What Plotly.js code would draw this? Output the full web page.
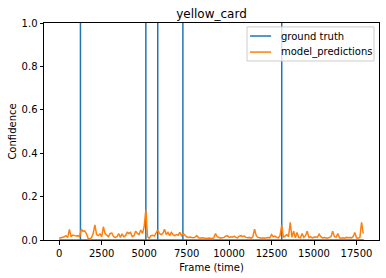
<!DOCTYPE html>
<html>
<head>
<meta charset="utf-8">
<script src="https://cdn.plot.ly/plotly-3.0.1.min.js"></script>
<style>html,body{margin:0;padding:0;background:#fff;}#chart{width:386px;height:278px;}</style>
</head>
<body>
<div id="chart"></div>
<script>
// Sampled frame step for prediction series
const frameStep = 100;
const lastFrame = 17930;
// Ground-truth event frames (confidence 1 at these frames)
const gtFrames = [1250, 5100, 5800, 7280, 13100];
// Model prediction confidences, one per frameStep starting at frame 0
const predValues = [
  0.008,0.010,0.012,0.015,0.020,0.012,0.049,0.015,0.023,0.020,
  0.018,0.020,0.015,0.050,0.040,0.042,0.030,0.008,0.005,0.010,
  0.030,0.070,0.025,0.020,0.028,0.015,0.061,0.030,0.020,0.015,
  0.030,0.032,0.015,0.012,0.015,0.030,0.012,0.028,0.015,0.020,
  0.035,0.030,0.035,0.015,0.020,0.041,0.030,0.025,0.046,0.030,
  0.061,0.138,0.015,0.008,0.020,0.022,0.018,0.030,0.046,0.030,
  0.025,0.030,0.050,0.025,0.035,0.020,0.035,0.025,0.020,0.025,
  0.022,0.035,0.020,0.030,0.020,0.015,0.012,0.014,0.012,0.010,
  0.013,0.020,0.010,0.008,0.010,0.008,0.008,0.007,0.009,0.008,
  0.007,0.010,0.030,0.015,0.010,0.008,0.010,0.012,0.018,0.020,
  0.012,0.015,0.013,0.018,0.012,0.010,0.018,0.020,0.015,0.018,
  0.012,0.010,0.012,0.008,0.015,0.050,0.020,0.012,0.010,0.008,
  0.010,0.008,0.010,0.012,0.010,0.025,0.015,0.018,0.012,0.010,
  0.020,0.069,0.012,0.020,0.025,0.015,0.081,0.012,0.041,0.010,
  0.035,0.012,0.010,0.030,0.012,0.020,0.041,0.012,0.015,0.010,
  0.012,0.015,0.012,0.027,0.015,0.010,0.012,0.010,0.008,0.012,
  0.015,0.041,0.015,0.012,0.030,0.010,0.008,0.010,0.008,0.012,
  0.010,0.012,0.010,0.015,0.035,0.010,0.008,0.012,0.081,0.030
];
const xTickVals = [0, 2500, 5000, 7500, 10000, 12500, 15000, 17500];
const yTickVals = [0, 0.2, 0.4, 0.6, 0.8, 1.0];
const seriesNames = ['ground truth', 'model_predictions'];
const seriesColors = ['#1f77b4', '#ff7f0e'];

// Build ground truth series: zero everywhere with spikes to 1
const gtX = [0], gtY = [0];
gtFrames.forEach(f => { gtX.push(f, f, f); gtY.push(0, 1, 0); });
gtX.push(lastFrame); gtY.push(0);

const predX = predValues.map((v, i) => i * frameStep);

const font = {family: 'DejaVu Sans, sans-serif', size: 10, color: '#000'};
const data = [
  {x: gtX, y: gtY, type: 'scatter', mode: 'lines', name: seriesNames[0],
   line: {color: seriesColors[0], width: 1.5}},
  {x: predX, y: predValues, type: 'scatter', mode: 'lines', name: seriesNames[1],
   line: {color: seriesColors[1], width: 1.5}}
];
const axisCommon = {showgrid: false, zeroline: false, showline: true, mirror: true,
  linecolor: '#000', linewidth: 1, ticks: 'outside', ticklen: 3.5, tickwidth: 1,
  tickcolor: '#000', tickfont: font};

// Manual matplotlib-style legend (paper coordinates)
const legY = [0.940, 0.866];
const shapes = [
  {type: 'rect', xref: 'paper', yref: 'paper', x0: 0.606, x1: 0.985, y0: 0.825, y1: 0.982,
   fillcolor: 'rgba(255,255,255,0.8)', line: {color: '#cccccc', width: 1}, layer: 'above'}
];
const annotations = [];
seriesNames.forEach((n, i) => {
  shapes.push({type: 'line', xref: 'paper', yref: 'paper', x0: 0.615, x1: 0.678,
    y0: legY[i], y1: legY[i], line: {color: seriesColors[i], width: 1.5}, layer: 'above'});
  annotations.push({xref: 'paper', yref: 'paper', x: 0.7, y: legY[i], xanchor: 'left',
    yanchor: 'middle', text: n, showarrow: false, font: font});
});

const layout = {
  width: 386, height: 278,
  margin: {l: 44, r: 7, t: 23, b: 38},
  paper_bgcolor: '#fff', plot_bgcolor: '#fff',
  font: font,
  title: {text: 'yellow_card', font: {family: 'DejaVu Sans, sans-serif', size: 12, color: '#000'},
          x: 0.5, xanchor: 'center', xref: 'paper', y: 0.952, yanchor: 'middle'},
  xaxis: Object.assign({}, axisCommon, {range: [-896, 18826], tickvals: xTickVals,
    ticktext: xTickVals.map(String),
    title: {text: 'Frame (time)', font: font, standoff: 6}}),
  yaxis: Object.assign({}, axisCommon, {range: [0, 1], tickvals: yTickVals,
    ticktext: yTickVals.map(v => v.toFixed(1)),
    title: {text: 'Confidence', font: font, standoff: 3}}),
  showlegend: false,
  shapes: shapes,
  annotations: annotations
};
Plotly.newPlot('chart', data, layout, {displayModeBar: false, staticPlot: true});
</script>
</body>
</html>
